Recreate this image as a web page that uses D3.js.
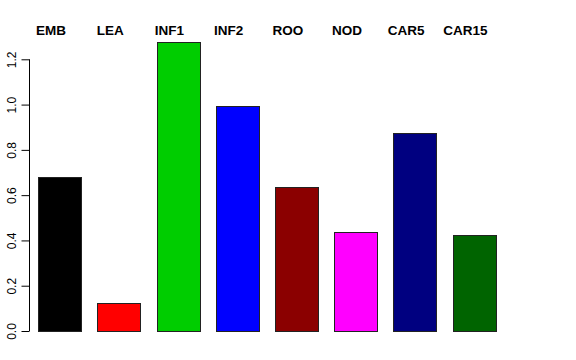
<!DOCTYPE html>
<html><head><meta charset="utf-8">
<script src="https://cdn.jsdelivr.net/npm/d3@7"></script>
<style>body{margin:0;background:#fff}svg{display:block}</style>
</head><body>
<svg id="c" width="576" height="360"></svg>
<script>
const categories = ["EMB","LEA","INF1","INF2","ROO","NOD","CAR5","CAR15"];
const values = [0.68, 0.122, 1.275, 0.994, 0.635, 0.439, 0.873, 0.424];
const colors = ["#000000","#FF0000","#00CD00","#0000FF","#8B0000","#FF00FF","#000080","#006400"];
const yTicks = [0, 0.2, 0.4, 0.6, 0.8, 1.0, 1.2];

const svg = d3.select("#c");
const x = d3.scaleBand().domain(categories).range([29.95, 503.55]).paddingInner(0.282).paddingOuter(0.141);
const y = d3.scaleLinear().domain([0, 1.2]).range([331, 59.3]);

svg.selectAll("rect.bar").data(categories).enter().append("rect")
  .attr("class","bar")
  .attr("x", d => Math.round(x(d)) + 0.5)
  .attr("width", Math.round(x.bandwidth()))
  .attr("y", (d,i) => Math.round(y(values[i])) + 0.5)
  .attr("height", (d,i) => Math.round(y(0)) - Math.round(y(values[i])))
  .attr("fill", (d,i) => colors[i])
  .attr("stroke", "#222").attr("stroke-width", 1);

const axis = d3.axisLeft(y).tickValues(yTicks).tickFormat(d3.format(".1f")).tickSize(8).tickPadding(5);
const g = svg.append("g").attr("transform","translate(29.5,0)").call(axis);
g.select(".domain").attr("stroke","#000").attr("d", `M0,${y(0)}V${y(1.2)}`);
g.selectAll(".tick line").attr("stroke","#000");
g.selectAll(".tick text")
  .attr("font-family","Liberation Sans, Arial, sans-serif").attr("font-size",12).attr("fill","#000")
  .attr("transform","rotate(-90)").attr("x",0).attr("y",-13.5).attr("dy","0")
  .attr("text-anchor","middle");

svg.selectAll("text.lab").data(categories).enter().append("text")
  .attr("class","lab")
  .attr("x", d => x(d) + x.bandwidth()/2 - 8.5)
  .attr("y", 35)
  .attr("text-anchor","middle")
  .attr("font-family","Liberation Sans, Arial, sans-serif")
  .attr("font-weight","bold").attr("font-size",13.5)
  .text(d => d);
</script>
</body></html>
